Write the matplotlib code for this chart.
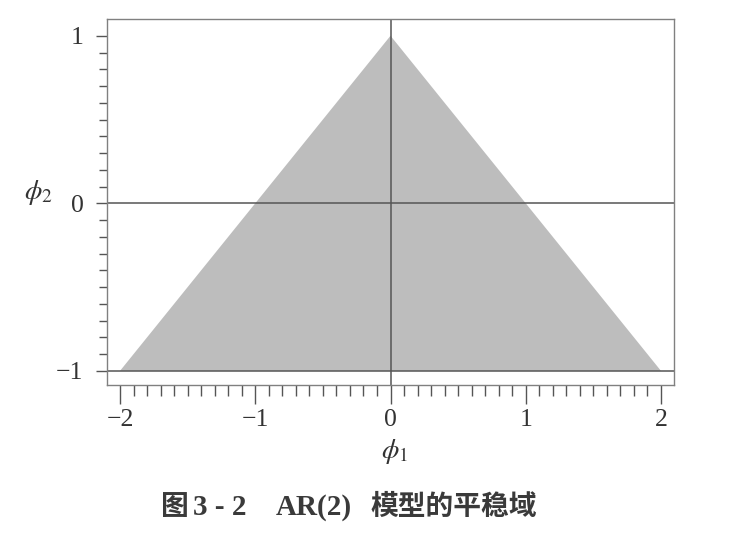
import matplotlib
matplotlib.use("Agg")
import matplotlib.pyplot as plt
import numpy as np

# Stationarity region of AR(2): triangle vertices
tri_phi1 = [-2, 2, 0]
tri_phi2 = [-1, -1, 1]
x_major = [-2, -1, 0, 1, 2]
y_major = [-1, 0, 1]
x_minor = np.round(np.arange(-2, 2.0001, 0.1), 2)
y_minor = np.round(np.arange(-1, 1.0001, 0.1), 2)
hlines = [0, -1]
vlines = [0]
caption_parts = ["图", "3 - 2", "AR(2)", "模型的平稳域"]

plt.rcParams['mathtext.fontset'] = 'stix'
plt.rcParams['font.family'] = ['Liberation Serif', 'DejaVu Serif']

fig = plt.figure(figsize=(7.51, 5.40), dpi=100)
ax = fig.add_axes([107/751, 1 - 385/540, (674-107)/751, (385-19)/540])

ax.fill(tri_phi1, tri_phi2, color='#bdbdbd', lw=0, zorder=1)
for h in hlines:
    ax.axhline(h, color='#555555', lw=1.1, zorder=2)
for v in vlines:
    ax.axvline(v, color='#555555', lw=1.1, zorder=2)

ax.set_xlim(-2.096, 2.096)
ax.set_ylim(-1.084, 1.10)

ax.set_xticks(x_major)
ax.set_xticklabels(['\u22122', '\u22121', '0', '1', '2'])
ax.set_yticks(y_major)
ax.set_yticklabels(['\u22121', '0', '1'])
ax.set_xticks(x_minor, minor=True)
ax.set_yticks(y_minor, minor=True)
ax.tick_params(which='both', width=1, color='#555555', labelsize=18.5,
               labelcolor='#333333')
ax.tick_params(axis='x', which='major', length=13.5, pad=4)
ax.tick_params(axis='x', which='minor', length=8)
ax.tick_params(axis='y', which='major', length=8, pad=9)
ax.tick_params(axis='y', which='minor', length=5.8)
ax.tick_params(top=False, right=False)
for s in ax.spines.values():
    s.set_color('#808080')
    s.set_linewidth(1)

fig.text(395/751, 1 - 451/540, r'$\phi_1$', fontsize=20, ha='center', va='center', color='#333333')
fig.text(38/751, 1 - 192/540, r'$\phi_2$', fontsize=20, ha='center', va='center', color='#333333')

cap_base = 1 - 515/540
cjk = ['Noto Sans CJK SC', 'DejaVu Sans']
serif = ['Liberation Serif']
cap_col = '#3a3a3a'
fig.text(161/751, cap_base, caption_parts[0], fontsize=20, ha='left', va='baseline',
         color=cap_col, fontweight='bold', family=cjk)
fig.text(193/751, cap_base, caption_parts[1], fontsize=21, ha='left', va='baseline',
         color=cap_col, fontweight='bold', family=serif)
fig.text(276/751, cap_base, caption_parts[2], fontsize=21, ha='left', va='baseline',
         color=cap_col, fontweight='bold', family=serif)
fig.text(370/751, cap_base, caption_parts[3], fontsize=20, ha='left', va='baseline',
         color=cap_col, fontweight='bold', family=cjk)

fig.savefig('out.png', dpi=100)
